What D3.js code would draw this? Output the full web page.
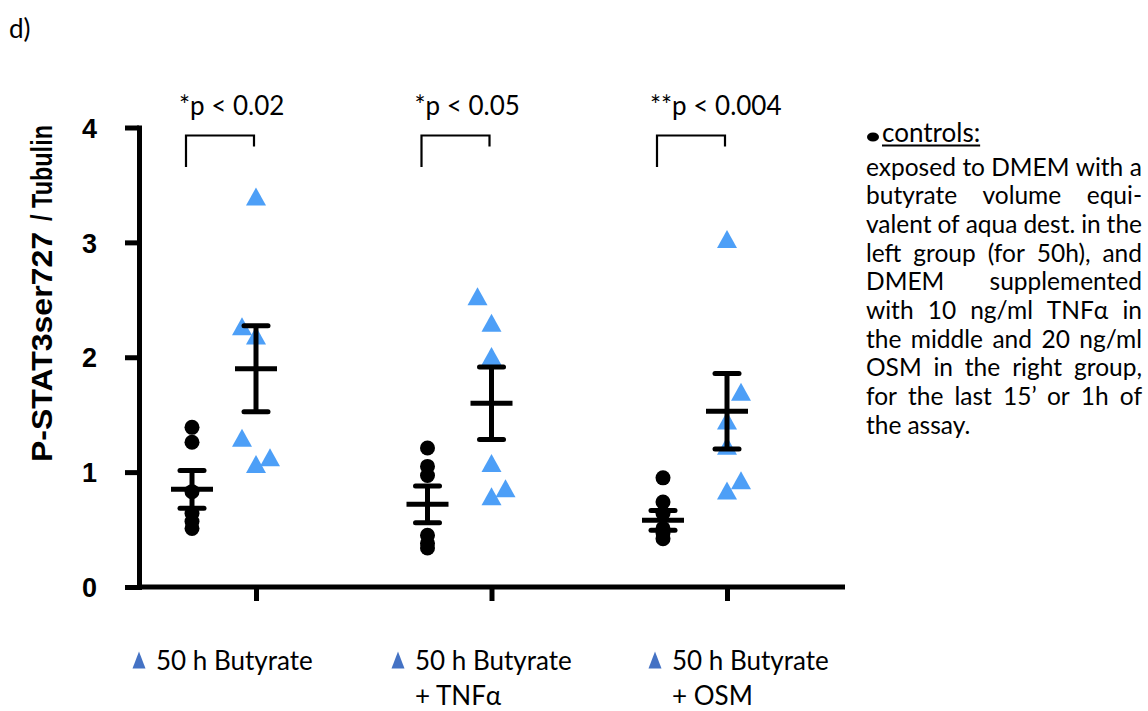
<!DOCTYPE html>
<html>
<head>
<meta charset="utf-8">
<script src="https://cdn.jsdelivr.net/npm/d3@7"></script>
<style>
  body { margin: 0; background: #fff; }
  svg { display: block; }
</style>
</head>
<body>
<svg id="chart" width="1148" height="711"></svg>
<script>
// ---- data -------------------------------------------------------------
const groups = ["Butyrate", "Butyrate + TNFα", "Butyrate + OSM"];

// P-STAT3ser727 / Tubulin ratios, controls (black dots)
const controlValues = [
  [1.39, 1.26, 0.83, 0.64, 0.57, 0.51],
  [1.21, 1.05, 0.97, 0.45, 0.38, 0.34],
  [0.95, 0.74, 0.64, 0.51, 0.47, 0.42]
];
// 50 h butyrate-treated (blue triangles)
const treatedValues = [
  [3.40, 2.27, 2.19, 1.30, 1.13, 1.07],
  [2.53, 2.30, 2.01, 1.08, 0.86, 0.79],
  [3.03, 1.70, 1.45, 1.23, 0.93, 0.84]
];
// side-by-side slot of each triangle inside its column (scatter dodge)
const treatedDodge = [
  [0, -1, 0, -1, 1, 0],
  [-1, 0, 0, 0, 1, 0],
  [0, 1, 0, 0, 1, 0]
];
const controlMean = [0.85, 0.72, 0.58];
const controlSem  = [0.165, 0.16, 0.087];
const treatedMean = [1.90, 1.60, 1.53];
const treatedSem  = [0.374, 0.316, 0.329];

const panelLabel = "d)";
const pLabels = ["*p < 0.02", "*p < 0.05", "**p < 0.004"];
const yTicks = [0, 1, 2, 3, 4];
const yTitle = ["P-STAT3ser727", "/ Tubulin"];
const legendLines = [
  ["50 h Butyrate"],
  ["50 h Butyrate", "+ TNFα"],
  ["50 h Butyrate", "+ OSM"]
];
const noteTitle = "controls:";
const noteLines = [
  "exposed to DMEM with a",
  "butyrate volume equi-",
  "valent of aqua dest. in the",
  "left group (for 50h), and",
  "DMEM supplemented",
  "with 10 ng/ml TNFα in",
  "the middle and 20 ng/ml",
  "OSM in the right group,",
  "for the last 15’ or 1h of",
  "the assay."
];

// ---- layout -----------------------------------------------------------
const svg = d3.select("#chart");
const plotLeft = 139, plotRight = 845;
const triColor = "#4d9ff7", legendTri = "#4472c4";
const bodyFont = "Lato, 'Open Sans', sans-serif";
const axisFont = "'Liberation Sans', Arial, sans-serif";

const y = d3.scaleLinear().domain([0, 4]).range([587, 127.5]);
const xGroup = d3.scaleLinear().domain([0, groups.length - 1]).range([224, 695]);
const pairOffset = 32, dodgeStep = 14;
const xControl = i => xGroup(i) - pairOffset;
const xTreated = i => xGroup(i) + pairOffset;

// bounding-box-centred triangle symbol
const triangle = (w, h) => ({
  draw(ctx) {
    ctx.moveTo(0, -h / 2);
    ctx.lineTo(w / 2, h / 2);
    ctx.lineTo(-w / 2, h / 2);
    ctx.closePath();
  }
});

// panel letter
svg.append("text").attr("x", 9).attr("y", 38)
  .attr("font-family", bodyFont).attr("font-size", 26).attr("fill", "#000")
  .text(panelLabel);

// ---- axes -------------------------------------------------------------
const yAxis = svg.append("g")
  .attr("transform", `translate(${plotLeft},0)`)
  .call(d3.axisLeft(y).tickValues(yTicks).tickFormat(d3.format("d"))
    .tickSize(14).tickSizeOuter(0).tickPadding(28));
yAxis.select(".domain").attr("stroke", "#000").attr("stroke-width", 5)
  .attr("stroke-linecap", "square");
yAxis.selectAll(".tick line").attr("stroke", "#000").attr("stroke-width", 5);
yAxis.selectAll(".tick text")
  .attr("font-family", axisFont).attr("font-weight", "bold")
  .attr("font-size", 27).attr("fill", "#000").attr("dy", "0.36em");

const xTickScale = d3.scaleLinear().domain([0, groups.length - 1])
  .range([xTreated(0), xTreated(groups.length - 1)]);
const xAxis = svg.append("g")
  .attr("transform", `translate(0,${y(0)})`)
  .call(d3.axisBottom(xTickScale).tickValues(d3.range(groups.length))
    .tickFormat("").tickSize(14).tickSizeOuter(0));
xAxis.select(".domain").remove();
xAxis.selectAll(".tick line").attr("stroke", "#000").attr("stroke-width", 5);
xAxis.append("line")
  .attr("x1", plotLeft).attr("x2", plotRight)
  .attr("stroke", "#000").attr("stroke-width", 5);

// y axis title, rotated
const titleG = svg.append("g").attr("transform", "translate(52,0) rotate(-90)");
titleG.append("text")
  .attr("x", -462).attr("y", 0)
  .attr("font-family", axisFont).attr("font-weight", "bold").attr("font-size", 29)
  .attr("textLength", 230).attr("lengthAdjust", "spacingAndGlyphs")
  .text(yTitle[0]);
titleG.append("text")
  .attr("x", -221).attr("y", 0)
  .attr("font-family", axisFont).attr("font-weight", "bold").attr("font-size", 29)
  .attr("textLength", 96).attr("lengthAdjust", "spacingAndGlyphs")
  .text(yTitle[1]);

// ---- data marks -------------------------------------------------------
const marks = svg.append("g");
groups.forEach((g, i) => {
  marks.append("g").selectAll("circle")
    .data(controlValues[i]).join("circle")
    .attr("cx", xControl(i)).attr("cy", d => y(d))
    .attr("r", 7.5).attr("fill", "#000");

  marks.append("g").selectAll("path")
    .data(treatedValues[i].map((v, k) => ({ v, slot: treatedDodge[i][k] })))
    .join("path")
    .attr("d", d3.symbol(triangle(20, 18))())
    .attr("transform", d => `translate(${xTreated(i) + d.slot * dodgeStep},${y(d.v)})`)
    .attr("fill", triColor);
});

// mean ± SEM
function errorBar(cx, mean, sem) {
  const gE = svg.append("g").attr("stroke", "#000").attr("stroke-width", 5);
  gE.append("line").attr("x1", cx).attr("x2", cx)
    .attr("y1", y(mean - sem)).attr("y2", y(mean + sem));
  [mean - sem, mean + sem].forEach(v => {
    gE.append("line").attr("x1", cx - 12).attr("x2", cx + 12)
      .attr("y1", y(v)).attr("y2", y(v)).attr("stroke-linecap", "round");
  });
  gE.append("line").attr("x1", cx - 21).attr("x2", cx + 21)
    .attr("y1", y(mean)).attr("y2", y(mean));
}
groups.forEach((g, i) => {
  errorBar(xControl(i), controlMean[i], controlSem[i]);
  errorBar(xTreated(i), treatedMean[i], treatedSem[i]);
});

// significance brackets and labels
groups.forEach((g, i) => {
  const top = y(4) + 8;
  const p = d3.path();
  p.moveTo(xControl(i) - 6, top + 31.5);
  p.lineTo(xControl(i) - 6, top);
  p.lineTo(xTreated(i) - 2, top);
  p.lineTo(xTreated(i) - 2, top + 11);
  svg.append("path").attr("d", p.toString())
    .attr("fill", "none").attr("stroke", "#000").attr("stroke-width", 2.2);
  svg.append("text")
    .attr("x", xControl(i) - 13).attr("y", 115)
    .attr("font-family", bodyFont).attr("font-size", 26).attr("fill", "#000")
    .text(pLabels[i]);
});

// ---- legend under the axis -------------------------------------------
const legendX = [139, 398, 655];
legendLines.forEach((lines, i) => {
  const lg = svg.append("g").attr("transform", `translate(${legendX[i]},0)`);
  lg.append("path").attr("d", d3.symbol(triangle(13, 17))())
    .attr("transform", "translate(0,660)").attr("fill", legendTri);
  lines.forEach((t, k) => {
    lg.append("text").attr("x", 17).attr("y", 670 + k * 35)
      .attr("font-family", bodyFont).attr("font-size", 26).attr("fill", "#000")
      .text(t);
  });
});

// ---- side note on controls (justified) --------------------------------
const noteX = 866, noteW = 276, noteTop = 175.5, noteStep = 28.7;
const note = svg.append("g").attr("font-family", bodyFont)
  .attr("font-size", 24.5).attr("fill", "#000");
note.append("ellipse").attr("cx", 873).attr("cy", 137).attr("rx", 6).attr("ry", 4.5)
  .attr("fill", "#000");
const head = note.append("text").attr("x", 882).attr("y", 141.5)
  .attr("font-size", 26).text(noteTitle);
const headW = head.node().getComputedTextLength();
note.append("line").attr("x1", 882).attr("x2", 882 + headW)
  .attr("y1", 145.5).attr("y2", 145.5).attr("stroke", "#000").attr("stroke-width", 1.8);

noteLines.forEach((line, li) => {
  const words = line.split(" ");
  const t = note.append("text").attr("y", noteTop + li * noteStep);
  const spans = words.map(w => t.append("tspan").text(w));
  const widths = spans.map(s => s.node().getComputedTextLength());
  const last = li === noteLines.length - 1;
  const space = 6;
  const gap = last || words.length < 2
    ? space
    : (noteW - d3.sum(widths)) / (words.length - 1);
  let cx = noteX;
  spans.forEach((s, k) => {
    s.attr("x", cx);
    cx += widths[k] + gap;
  });
});
</script>
</body>
</html>
